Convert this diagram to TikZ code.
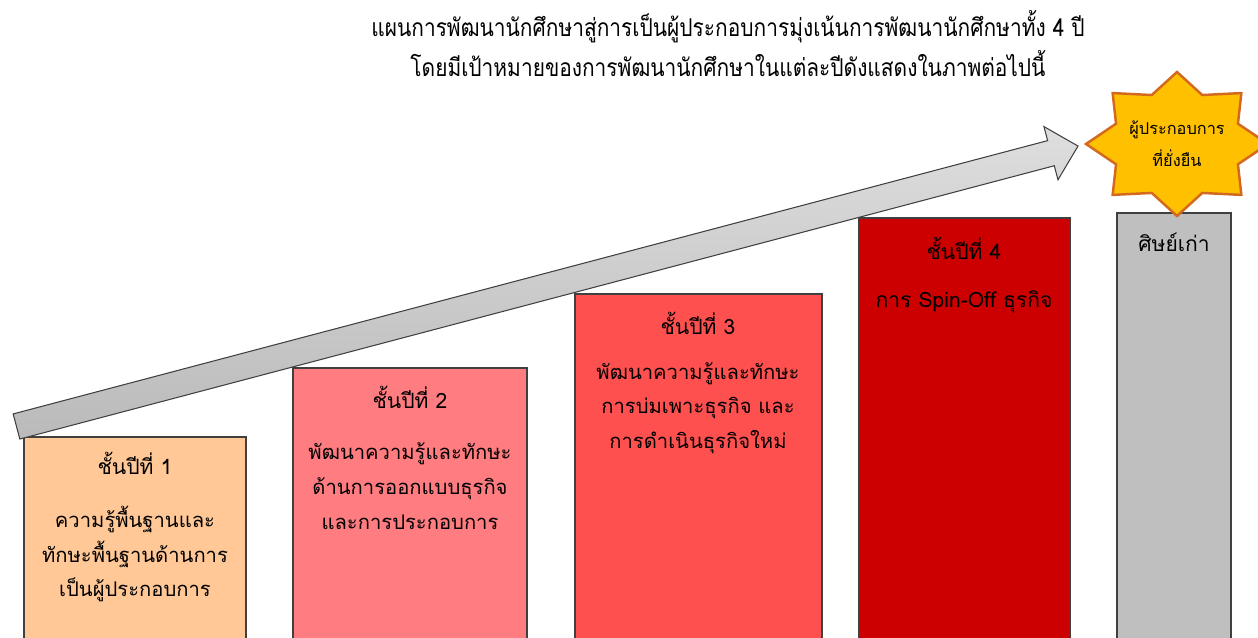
\documentclass[tikz,border=0pt]{standalone}
\usepackage{fontspec}
\setmainfont[Script=Thai]{Loma}
\newfontfamily\titlefont[Script=Thai,FakeStretch=0.85]{Loma}
\definecolor{yearone}{HTML}{FFC896}
\definecolor{yeartwo}{HTML}{FF7C80}
\definecolor{yearthree}{HTML}{FF5050}
\definecolor{yearfour}{HTML}{CC0000}
\definecolor{alumni}{HTML}{BFBFBF}
\definecolor{starfill}{HTML}{FFC000}
\definecolor{staredge}{HTML}{D2691E}
\tikzset{
  yearbox/.style={draw=black!75, line width=0.6pt},
  boxtext/.style={align=center, font=\fontsize{11.5}{19.8}\selectfont, inner sep=0pt},
  headtext/.style={font=\fontsize{12}{14}\selectfont, inner sep=0pt},
  titletext/.style={font=\titlefont\fontsize{14}{21}\selectfont, inner sep=0pt}
}

\begin{document}
\begin{tikzpicture}[x=0.02cm,y=0.02cm]
\useasboundingbox (0,0) rectangle (1258,638);
% title
\node[titletext] (title1) at (728,611) {แผนการพัฒนานักศึกษาสู่การเป็นผู้ประกอบการมุ่งเน้นการพัฒนานักศึกษาทั้ง 4 ปี};
\node[titletext] (title2) at (728,574) {โดยมีเป้าหมายของการพัฒนานักศึกษาในแต่ละปีดังแสดงในภาพต่อไปนี้};
% the years
\draw[yearbox, fill=yearone] (24,-3) rectangle (246,201);
\draw[yearbox, fill=yeartwo] (293,-3) rectangle (527,270);
\draw[yearbox, fill=yearthree] (575,-3) rectangle (822,344);
\draw[yearbox, fill=yearfour] (859,-3) rectangle (1070,420);
\draw[yearbox, fill=alumni] (1117,-3) rectangle (1231,425);
\node[headtext] (head1) at (135,175) {ชั้นปีที่ 1};
\node[boxtext] (body1) at (135,84) {ความรู้พื้นฐานและ\\ทักษะพื้นฐานด้านการ\\เป็นผู้ประกอบการ};
\node[headtext] (head2) at (410,241) {ชั้นปีที่ 2};
\node[boxtext] (body2) at (410,152) {พัฒนาความรู้และทักษะ\\ด้านการออกแบบธุรกิจ\\และการประกอบการ};
\node[headtext] (head3) at (698,315) {ชั้นปีที่ 3};
\node[boxtext] (body3) at (698,230) {พัฒนาความรู้และทักษะ\\การบ่มเพาะธุรกิจ และ\\การดำเนินธุรกิจใหม่};
\node[headtext] (head4) at (964,390) {ชั้นปีที่ 4};
\node[headtext] (body4) at (964,336) {การ Spin-Off ธุรกิจ};
\node[headtext] (alum) at (1174,396) {ศิษย์เก่า};
% arrow
\coordinate (tail) at (16.5,211.5);
\begin{scope}[shift={(tail)}, rotate=14.8]
  \draw[draw=black!75, line width=0.6pt, top color=black!13, bottom color=black!27]
    (0,-13) -- (1070,-13) -- (1070,-27.5) -- (1098,0) -- (1070,27.5) -- (1070,13) -- (0,13) -- cycle;
\end{scope}
% star
\coordinate (goal) at (1177,494);
\draw[fill=starfill, draw=staredge, line width=1.4pt, line join=miter, shift={(goal)}]
  (90:91 and 72) \foreach \i in {0,...,7} { -- ({112.5+45*\i}:66 and 53) -- ({135+45*\i}:91 and 72) } -- cycle;
\node[boxtext, font=\fontsize{9.3}{18}\selectfont] (goaltext) at (goal) {ผู้ประกอบการ\\ที่ยั่งยืน};
\end{tikzpicture}
\end{document}
